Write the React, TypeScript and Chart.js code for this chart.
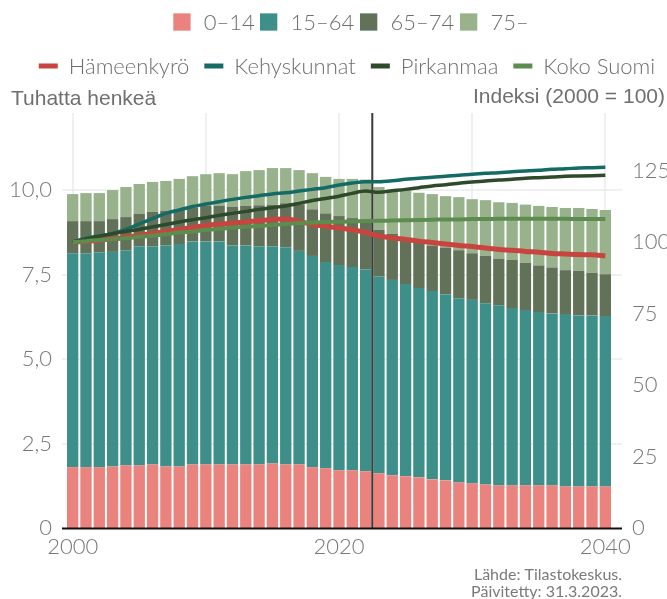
import { useEffect, useRef } from "react";
import { Chart, registerables } from "chart.js";

Chart.register(...registerables);

// ---- Data ----
const years = [
  2000, 2001, 2002, 2003, 2004, 2005, 2006, 2007, 2008, 2009,
  2010, 2011, 2012, 2013, 2014, 2015, 2016, 2017, 2018, 2019,
  2020, 2021, 2022, 2023, 2024, 2025, 2026, 2027, 2028, 2029,
  2030, 2031, 2032, 2033, 2034, 2035, 2036, 2037, 2038, 2039, 2040,
];
const projectionStart = 2023;

// thousands of persons
const age0to14 = [
  1.80, 1.80, 1.80, 1.82, 1.85, 1.85, 1.88, 1.82, 1.82, 1.88,
  1.88, 1.88, 1.88, 1.88, 1.88, 1.91, 1.88, 1.88, 1.80, 1.77,
  1.71, 1.71, 1.68, 1.62, 1.56, 1.53, 1.50, 1.44, 1.41, 1.35,
  1.32, 1.29, 1.26, 1.26, 1.26, 1.26, 1.26, 1.23, 1.23, 1.23, 1.23,
];
const age15to64 = [
  6.33, 6.33, 6.36, 6.35, 6.37, 6.49, 6.46, 6.55, 6.58, 6.60,
  6.60, 6.60, 6.48, 6.48, 6.46, 6.43, 6.43, 6.32, 6.25, 6.10,
  6.07, 6.01, 5.98, 5.82, 5.78, 5.69, 5.60, 5.57, 5.51, 5.45,
  5.43, 5.36, 5.33, 5.25, 5.19, 5.13, 5.09, 5.10, 5.06, 5.06, 5.04,
];
const age65to74 = [
  0.95, 0.95, 0.92, 0.97, 0.98, 0.96, 1.01, 1.01, 1.03, 1.01,
  1.05, 1.06, 1.15, 1.17, 1.21, 1.22, 1.30, 1.38, 1.38, 1.44,
  1.45, 1.45, 1.47, 1.38, 1.36, 1.36, 1.36, 1.35, 1.38, 1.42,
  1.38, 1.40, 1.38, 1.42, 1.40, 1.38, 1.36, 1.30, 1.32, 1.26, 1.24,
];
const age75plus = [
  0.80, 0.83, 0.83, 0.86, 0.89, 0.88, 0.89, 0.89, 0.90, 0.92,
  0.94, 0.96, 0.96, 1.03, 1.04, 1.09, 1.04, 1.01, 1.07, 1.08,
  1.10, 1.16, 1.18, 1.27, 1.32, 1.40, 1.46, 1.52, 1.52, 1.57,
  1.60, 1.65, 1.67, 1.69, 1.72, 1.76, 1.79, 1.84, 1.86, 1.89, 1.90,
];

// index 2000 = 100
const hameenkyro = [
  100.0, 100.2, 100.6, 101.1, 101.7, 102.3, 103.0, 103.7, 104.4, 105.1,
  105.8, 106.2, 106.6, 107.0, 107.4, 107.9, 108.0, 107.3, 106.1, 105.5,
  104.9, 104.3, 103.3, 102.1, 101.4, 100.9, 100.3, 99.8, 99.3, 98.8,
  98.4, 97.9, 97.4, 97.1, 96.7, 96.4, 96.0, 95.8, 95.6, 95.5, 95.2,
];
const kehyskunnat = [
  100.0, 101.3, 102.1, 103.0, 104.4, 106.3, 108.2, 110.0, 111.2, 112.4,
  113.3, 114.1, 114.9, 115.6, 116.2, 116.8, 117.2, 117.8, 118.4, 119.0,
  119.9, 120.6, 121.1, 121.1, 121.4, 121.9, 122.3, 122.6, 123.0, 123.3,
  123.7, 124.0, 124.2, 124.6, 124.8, 125.1, 125.4, 125.6, 125.9, 126.0, 126.1,
];
const pirkanmaa = [
  100.0, 101.0, 102.0, 102.9, 103.7, 104.4, 105.3, 106.1, 107.0, 107.8,
  108.5, 109.3, 110.0, 110.7, 111.4, 112.0, 112.6, 113.5, 114.5, 115.2,
  116.0, 117.0, 117.8, 117.4, 117.9, 118.4, 119.0, 119.6, 120.0, 120.5,
  121.0, 121.3, 121.7, 121.9, 122.3, 122.5, 122.7, 123.0, 123.1, 123.2, 123.3,
];
const kokoSuomi = [
  100.0, 100.3, 100.7, 101.0, 101.3, 101.8, 102.2, 102.7, 103.3, 103.7,
  104.2, 104.6, 105.0, 105.3, 105.6, 105.9, 106.3, 106.6, 106.8, 107.0,
  107.1, 107.2, 107.3, 107.4, 107.5, 107.6, 107.7, 107.8, 107.9, 107.9,
  108.0, 108.0, 108.1, 108.1, 108.1, 108.1, 108.1, 108.1, 108.0, 108.0, 108.0,
];

const barLabels = ["0–14", "15–64", "65–74", "75–"];
const lineLabels = ["Hämeenkyrö", "Kehyskunnat", "Pirkanmaa", "Koko Suomi"];
const leftTitle = "Tuhatta henkeä";
const rightTitle = "Indeksi (2000 = 100)";
const footnote = ["Lähde: Tilastokeskus.", "Päivitetty: 31.3.2023."];

const barColors = ["#ea837d", "#3e8f8a", "#627259", "#98b28c"];
const lineColors = ["#c8453f", "#146b66", "#2e4a2a", "#5c8d4e"];
const lineWidths = [5, 3.5, 3.5, 4];

const TEXT = "#6f6f6f";
const TICK = "#777777";
const GRID = "#ebebeb";

const decorPlugin = {
  id: "decor",
  beforeDatasetsDraw(chart: any) {
    const { ctx, chartArea, scales } = chart;
    const x = scales.x;
    const y = scales.y;
    ctx.save();
    ctx.strokeStyle = GRID;
    ctx.lineWidth = 1.5;
    for (const t of y.ticks) {
      if (t.value === 0) continue;
      const py = Math.round(y.getPixelForValue(t.value));
      ctx.beginPath();
      ctx.moveTo(chartArea.left - 4, py);
      ctx.lineTo(chartArea.right + 10, py);
      ctx.stroke();
    }
    years.forEach((yr, i) => {
      if (yr % 10 !== 0) return;
      const px = Math.round(x.getPixelForValue(i));
      ctx.beginPath();
      ctx.moveTo(px, chartArea.top);
      ctx.lineTo(px, chartArea.bottom);
      ctx.stroke();
    });
    ctx.restore();
  },
  beforeDatasetDraw(chart: any, args: any) {
    if (args.index !== 4) return;
    const { ctx, chartArea, scales } = chart;
    const x = scales.x;
    const i = years.indexOf(projectionStart);
    const px = (x.getPixelForValue(i - 1) + x.getPixelForValue(i)) / 2;
    ctx.save();
    ctx.strokeStyle = "#3a3a3a";
    ctx.lineWidth = 2;
    ctx.beginPath();
    ctx.moveTo(px, chartArea.top);
    ctx.lineTo(px, chartArea.bottom);
    ctx.stroke();
    ctx.restore();
  },
  afterDatasetsDraw(chart: any) {
    const { ctx, chartArea } = chart;
    ctx.save();
    ctx.strokeStyle = "#111111";
    ctx.lineWidth = 2;
    ctx.beginPath();
    ctx.moveTo(chartArea.left - 4, chartArea.bottom + 0.5);
    ctx.lineTo(chartArea.right + 10, chartArea.bottom + 0.5);
    ctx.stroke();
    ctx.restore();
  },
  afterDraw(chart: any) {
    const { ctx } = chart;
    ctx.save();
    ctx.textBaseline = "middle";
    ctx.textAlign = "left";
    // Row 1: bar legend (fixed slots)
    ctx.font = "300 22px Lato";
    const box = 17.3;
    const r1y = 22;
    const slots1 = [173.3, 260, 360, 460];
    barLabels.forEach((l, i) => {
      const bx = slots1[i];
      ctx.fillStyle = barColors[i];
      ctx.fillRect(bx, r1y - box / 2, box, box);
      ctx.fillStyle = TEXT;
      ctx.fillText(l, bx + 30.5, r1y + 1);
    });
    // Row 2: line legend (centered)
    ctx.font = "300 22px Lato";
    const mk = 19;
    const mkH = 5;
    const gapMT = 11;
    const gapItem2 = 15;
    const centerX = 347;
    const w2 = lineLabels.map((l) => ctx.measureText(l).width);
    let total2 = 0;
    w2.forEach((w, i) => (total2 += mk + gapMT + w + (i < w2.length - 1 ? gapItem2 : 0)));
    let cx = centerX - total2 / 2;
    const r2y = 66;
    lineLabels.forEach((l, i) => {
      ctx.fillStyle = lineColors[i];
      ctx.fillRect(cx, r2y - mkH / 2, mk, mkH);
      ctx.fillStyle = TEXT;
      ctx.fillText(l, cx + mk + gapMT, r2y + 1);
      cx += mk + gapMT + w2[i] + gapItem2;
    });
    // Axis titles
    ctx.font = "21px 'Liberation Sans'";
    ctx.fillStyle = TEXT;
    ctx.textAlign = "left";
    ctx.fillText(leftTitle, 11, 99);
    ctx.textAlign = "right";
    ctx.fillText(rightTitle, 665, 97);
    // Footnote
    ctx.font = "16px Lato";
    ctx.fillStyle = "#7a7a7a";
    ctx.fillText(footnote[0], 622, 575);
    ctx.fillText(footnote[1], 622, 592);
    ctx.restore();
  },
};

export default function App() {
  const ref = useRef<HTMLCanvasElement | null>(null);

  useEffect(() => {
    if (!ref.current) return;
    const barSets = [age0to14, age15to64, age65to74, age75plus].map((d, i) => ({
      type: "bar" as const,
      label: barLabels[i],
      data: d,
      backgroundColor: barColors[i],
      borderWidth: 0,
      barPercentage: 0.85,
      categoryPercentage: 1,
      yAxisID: "y",
      order: 10,
      stack: "pop",
    }));
    const lineSets = [hameenkyro, kehyskunnat, pirkanmaa, kokoSuomi].map((d, i) => ({
      type: "line" as const,
      label: lineLabels[i],
      data: d,
      borderColor: lineColors[i],
      backgroundColor: lineColors[i],
      borderWidth: lineWidths[i],
      pointRadius: 0,
      cubicInterpolationMode: "monotone" as const,
      yAxisID: "y1",
      order: 4 - i,
      fill: false,
    }));

    const tickFont = { family: "Lato", size: 22, weight: "300" as any };

    const chart = new Chart(ref.current, {
      type: "bar",
      data: {
        labels: years.map(String),
        datasets: [...barSets, ...lineSets] as any,
      },
      options: {
        responsive: false,
        animation: false,
        devicePixelRatio: 1,
        layout: { padding: { top: 113, left: 0, right: 0, bottom: 0 } },
        plugins: {
          legend: { display: false },
          tooltip: { enabled: false },
          title: { display: false },
        },
        scales: {
          x: {
            stacked: true,
            offset: true,
            grid: { display: false, drawTicks: false },
            border: { display: false },
            ticks: {
              autoSkip: false,
              maxRotation: 0,
              padding: 6,
              color: TICK,
              font: tickFont,
              callback: (_v: any, idx: number) => (years[idx] % 20 === 0 ? String(years[idx]) : ""),
            },
            afterFit: (s: any) => {
              s.height = 71;
            },
          },
          y: {
            stacked: true,
            position: "left",
            min: 0,
            max: 12.28,
            grid: { display: false, drawTicks: false },
            border: { display: false },
            ticks: {
              stepSize: 2.5,
              includeBounds: false,
              padding: 14,
              color: TICK,
              font: tickFont,
              callback: (v: any) => (Number(v) === 0 ? "0" : Number(v).toFixed(1).replace(".", ",")),
            },
            afterFit: (s: any) => {
              s.width = 66;
            },
          },
          y1: {
            position: "right",
            min: 0,
            max: 145.1,
            grid: { display: false, drawTicks: false },
            border: { display: false },
            ticks: {
              stepSize: 25,
              includeBounds: false,
              padding: 20,
              color: TICK,
              font: tickFont,
              callback: (v: any) => String(v),
            },
            afterFit: (s: any) => {
              s.width = 55;
            },
          },
        },
      } as any,
      plugins: [decorPlugin],
    });
    return () => chart.destroy();
  }, []);

  return (
    <div style={{ position: "fixed", left: 0, top: 0, width: 667, height: 599, background: "#fff" }}>
      <canvas ref={ref} width={667} height={599} style={{ display: "block" }} />
    </div>
  );
}
